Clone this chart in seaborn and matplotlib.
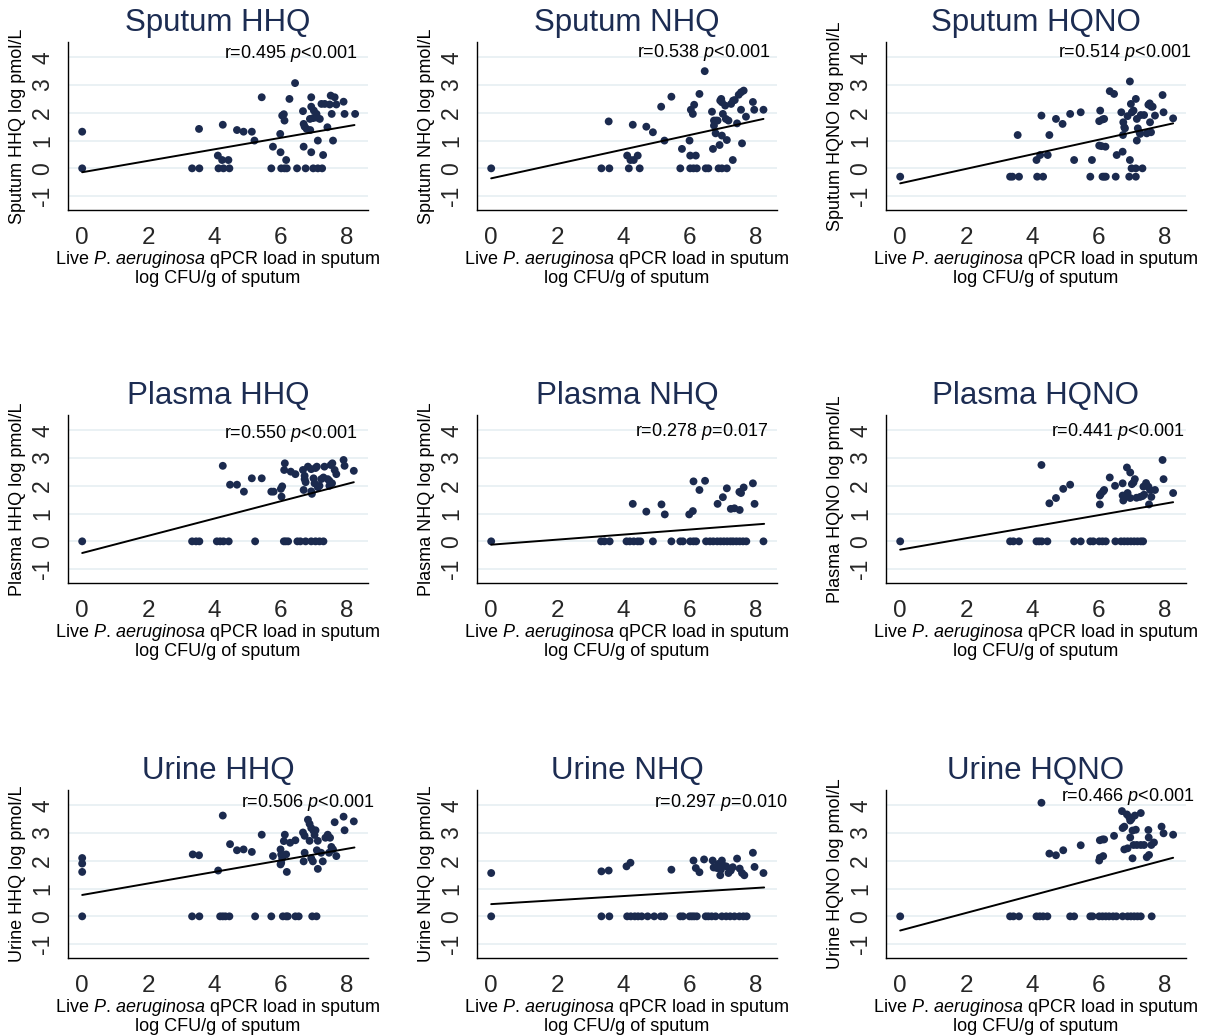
import matplotlib
matplotlib.use("Agg")
import matplotlib.pyplot as plt
import seaborn as sns
import pandas as pd

# ---------------- data ----------------
titles = ["Sputum HHQ", "Sputum NHQ", "Sputum HQNO",
          "Plasma HHQ", "Plasma NHQ", "Plasma HQNO",
          "Urine HHQ", "Urine NHQ", "Urine HQNO"]
ylabels = [t + " log pmol/L" for t in titles]
r_values = ["0.495", "0.538", "0.514", "0.550", "0.278", "0.441", "0.506", "0.297", "0.466"]
p_values = ["<0.001", "<0.001", "<0.001", "<0.001", "=0.017", "<0.001", "<0.001", "=0.010", "<0.001"]

sputum_hhq = [(0, 1.32), (0, 0), (3.33, 0), (3.55, 0), (3.54, 1.42), (4.11, 0.46), (4.24, 0.3), (4.43, 0.3),
              (4.26, 1.57), (4.13, 0), (4.28, 0), (4.46, 0), (4.69, 1.38), (4.89, 1.32), (5.14, 1.32), (5.22, 1.0),
              (5.44, 2.56), (5.73, 0), (5.78, 0.78), (6.0, 1.24), (6.01, 0.58), (6.06, 1.9), (6.11, 1.95),
              (6.13, 1.72), (6.03, 0), (6.13, 0), (6.2, 0), (6.18, 0.3), (6.28, 2.5), (6.45, 3.07), (6.51, 0),
              (6.69, 2.06), (6.71, 0.78), (6.71, 1.6), (6.74, 1.5), (6.77, 0), (6.8, 1.42), (6.91, 1.38),
              (6.9, 1.78), (7.0, 1.81), (7.1, 1.83), (6.94, 2.56), (6.94, 2.22), (7.02, 2.08), (7.1, 1.96),
              (6.94, 0.58), (7.0, 0), (7.14, 0), (7.27, 0), (7.14, 1.0), (7.2, 1.78), (7.3, 0.48), (7.25, 2.32),
              (7.35, 2.32), (7.43, 1.48), (7.5, 2.3), (7.53, 2.62), (7.56, 1.96), (7.6, 1.0), (7.65, 2.56),
              (7.7, 2.3), (7.92, 2.4), (7.95, 1.96), (8.27, 1.96)]

sputum_nhq = [(0, 0), (3.34, 0), (3.58, 0), (3.56, 1.69), (4.12, 0.46), (4.22, 0.3), (4.32, 0.3), (4.44, 0.46),
              (4.29, 1.57), (4.17, 0), (4.5, 0), (4.7, 1.5), (4.9, 1.3), (5.15, 2.22), (5.25, 1.0), (5.46, 2.58),
              (5.73, 0), (5.78, 0.7), (6.01, 1.0), (6.03, 0.46), (6.05, 2.11), (6.11, 1.96), (6.15, 2.29),
              (6.2, 0.46), (6.03, 0), (6.13, 0), (6.23, 0), (6.31, 2.68), (6.47, 3.5), (6.5, 0), (6.58, 0),
              (6.69, 2.04), (6.72, 0.7), (6.75, 1.72), (6.81, 1.72), (6.86, 1.72), (6.75, 1.54), (6.8, 1.26),
              (6.89, 0), (6.99, 0), (7.14, 0), (6.94, 2.44), (6.97, 2.5), (6.99, 2.38), (6.92, 0.84), (6.99, 1.18),
              (7.02, 1.96), (7.09, 2.26), (7.11, 1.78), (7.14, 1.02), (7.19, 1.72), (7.27, 2.32), (7.32, 0.3),
              (7.33, 2.44), (7.38, 2.46), (7.45, 1.62), (7.5, 2.65), (7.57, 2.74), (7.65, 2.8), (7.57, 2.11),
              (7.6, 0.9), (7.72, 1.86), (7.93, 2.39), (7.97, 2.11), (8.25, 2.11)]

sputum_hqno = [(0, -0.3), (3.33, -0.3), (3.4, -0.3), (3.6, -0.3), (3.56, 1.2), (4.13, 0.3), (4.24, 0.48),
               (4.28, 1.9), (4.15, -0.3), (4.33, -0.3), (4.47, 0.48), (4.52, 1.2), (4.72, 1.78), (4.92, 1.6),
               (5.15, 1.96), (5.27, 0.3), (5.47, 2.02), (5.76, -0.3), (5.81, 0.3), (6.06, 2.08), (6.03, 1.7),
               (6.13, 1.76), (6.18, 1.78), (6.03, 0.82), (6.1, 0.8), (6.22, 0.78), (6.13, -0.3), (6.18, -0.3),
               (6.23, -0.3), (6.35, 2.78), (6.48, 2.68), (6.53, -0.3), (6.56, 0.48), (6.7, 2.02), (6.74, 0.6),
               (6.76, 1.66), (6.79, 1.48), (6.81, 1.44), (6.75, 1.2), (6.89, 1.88), (6.96, 3.13), (6.99, 2.32),
               (6.96, 0.3), (6.94, -0.3), (7.02, 2.02), (7.07, 2.08), (7.01, 0), (7.14, 0), (7.34, 0),
               (7.14, -0.3), (7.14, 2.5), (7.17, 1.78), (7.17, 1.0), (7.2, 1.44), (7.25, 1.3), (7.27, 1.24),
               (7.29, 1.92), (7.39, 1.92), (7.47, 1.26), (7.6, 1.3), (7.52, 2.29), (7.56, 2.34), (7.61, 2.22),
               (7.57, 1.66), (7.65, 2.22), (7.72, 1.9), (7.95, 2.64), (7.98, 2.02), (8.27, 1.8)]

plasma_hhq = [(0, 0), (3.33, 0), (3.45, 0), (3.55, 0), (4.08, 0), (4.18, 0), (4.28, 0), (4.44, 0), (4.26, 2.72),
              (4.48, 2.04), (4.69, 2.04), (4.9, 1.79), (5.14, 2.27), (5.24, 0), (5.44, 2.27), (5.73, 1.79),
              (5.8, 1.79), (6.02, 1.89), (6.04, 1.61), (6.06, 1.98), (6.11, 0), (6.17, 0), (6.24, 0), (6.14, 2.81),
              (6.12, 2.57), (6.32, 2.51), (6.46, 2.42), (6.52, 0), (6.61, 0), (6.69, 2.57), (6.71, 1.85),
              (6.74, 2.36), (6.74, 2.24), (6.77, 2.13), (6.77, 0), (6.94, 0), (7.07, 0), (7.19, 0), (7.31, 0),
              (6.84, 2.69), (6.94, 2.6), (7.07, 2.64), (7.11, 2.69), (6.94, 1.8), (6.96, 1.71), (7.01, 2.27),
              (7.04, 2.09), (7.14, 1.95), (7.19, 2.0), (7.24, 2.24), (7.31, 2.3), (7.34, 2.69), (7.44, 2.24),
              (7.49, 2.18), (7.49, 2.0), (7.57, 2.09), (7.53, 2.75), (7.58, 2.81), (7.65, 2.57), (7.7, 2.42),
              (7.92, 2.93), (7.95, 2.72), (8.23, 2.54)]

plasma_nhq = [(0, 0), (3.33, 0), (3.43, 0), (3.59, 0), (4.1, 0), (4.2, 0), (4.32, 0), (4.44, 0), (4.52, 0),
              (4.29, 1.35), (4.7, 1.07), (4.9, 0), (5.16, 1.33), (5.26, 0.97), (5.46, 0), (5.73, 0), (5.81, 0),
              (6.0, 0.97), (6.11, 1.09), (6.13, 2.16), (6.31, 1.85), (6.48, 2.18), (6.03, 0), (6.13, 0), (6.21, 0),
              (6.51, 0), (6.63, 0), (6.73, 0), (6.85, 0), (6.95, 0), (7.05, 0), (7.15, 0), (7.25, 0), (7.33, 0),
              (7.43, 0), (7.53, 0), (7.63, 0), (7.73, 0), (6.86, 1.35), (7.02, 1.59), (7.14, 1.91), (7.26, 1.17),
              (7.37, 1.19), (7.53, 1.13), (7.52, 1.78), (7.57, 1.74), (7.65, 1.94), (7.93, 2.09), (7.98, 1.35),
              (8.25, 0)]

plasma_hqno = [(0, 0), (3.33, 0), (3.43, 0), (3.6, 0), (4.13, 0), (4.21, 0), (4.29, 0), (4.46, 0), (4.28, 2.75),
               (4.52, 1.37), (4.72, 1.56), (4.94, 1.89), (5.15, 2.04), (5.27, 0), (5.47, 0), (5.76, 0), (5.85, 0),
               (6.05, 1.33), (6.05, 1.65), (6.08, 1.71), (6.15, 1.8), (6.18, 1.85), (6.03, 0), (6.13, 0), (6.23, 0),
               (6.35, 2.3), (6.51, 2.0), (6.52, 0), (6.69, 0), (6.79, 0), (6.89, 0), (6.99, 0), (7.09, 0), (7.19, 0),
               (7.29, 0), (7.36, 0), (6.74, 2.09), (6.74, 1.65), (6.76, 1.47), (6.79, 1.56), (6.87, 2.66),
               (6.89, 1.74), (6.97, 2.48), (6.97, 1.56), (7.02, 2.06), (7.07, 2.12), (7.11, 2.24), (7.16, 1.57),
               (7.27, 1.6), (7.34, 1.63), (7.39, 1.68), (7.37, 1.97), (7.45, 2.1), (7.52, 1.97), (7.57, 1.85),
               (7.54, 1.33), (7.61, 1.6), (7.72, 1.85), (7.95, 2.93), (7.98, 2.24), (8.27, 1.74)]

urine_hhq = [(0, 0), (0, 1.6), (0, 1.9), (0, 2.1), (3.33, 0), (3.55, 0), (3.35, 2.23), (3.54, 2.2), (4.12, 1.65),
             (4.18, 0), (4.26, 0), (4.34, 0), (4.46, 0), (4.26, 3.63), (4.48, 2.6), (4.69, 2.38), (4.89, 2.41),
             (5.14, 2.32), (5.24, 0), (5.44, 2.94), (5.73, 0), (5.78, 2.17), (6.01, 2.41), (6.03, 2.23),
             (6.06, 2.09), (6.03, 1.93), (6.01, 1.87), (6.11, 2.71), (6.14, 2.94), (6.18, 2.23), (6.2, 1.6),
             (6.08, 0), (6.18, 0), (6.23, 0), (6.3, 2.65), (6.46, 2.74), (6.46, 0), (6.56, 0), (6.69, 3.02),
             (6.74, 2.9), (6.71, 1.98), (6.74, 2.29), (6.84, 3.48), (6.89, 3.33), (6.89, 2.72), (6.94, 3.18),
             (7.01, 3.08), (7.04, 2.93), (6.94, 2.09), (6.99, 1.98), (6.97, 0), (7.1, 0), (7.07, 3.1), (7.11, 2.38),
             (7.14, 1.71), (7.14, 2.72), (7.24, 2.29), (7.29, 1.98), (7.37, 2.83), (7.44, 2.94), (7.51, 2.83),
             (7.48, 2.29), (7.55, 2.5), (7.6, 2.41), (7.65, 3.39), (7.7, 2.17), (7.92, 3.59), (7.95, 3.1),
             (8.23, 3.42)]

urine_nhq = [(0, 0), (0, 1.56), (3.34, 0), (3.58, 0), (3.34, 1.62), (3.56, 1.65), (4.1, 1.8), (4.22, 1.93),
             (4.12, 0), (4.23, 0), (4.35, 0), (4.45, 0), (4.56, 0), (4.74, 0), (4.94, 0), (5.14, 0), (5.24, 0),
             (5.46, 1.68), (5.73, 0), (5.81, 0), (6.01, 0), (6.08, 0), (6.15, 0), (6.23, 0), (6.13, 2.01),
             (6.2, 1.74), (6.31, 1.59), (6.45, 2.05), (6.5, 0), (6.58, 0), (6.68, 0), (6.8, 0), (6.99, 0), (7.12, 0),
             (7.24, 0), (7.37, 0), (7.52, 0), (7.64, 0), (7.74, 0), (6.71, 2.01), (6.74, 1.76), (6.84, 1.74),
             (6.89, 1.89), (6.99, 2.01), (7.02, 1.84), (6.96, 1.68), (6.94, 1.48), (7.12, 1.8), (7.19, 1.56),
             (7.26, 1.65), (7.32, 1.77), (7.45, 2.08), (7.53, 1.72), (7.6, 1.56), (7.67, 1.48), (7.93, 2.29),
             (7.98, 1.78), (8.25, 1.56)]

urine_hqno = [(0, 0), (3.33, 0), (3.43, 0), (3.6, 0), (4.13, 0), (4.23, 0), (4.33, 0), (4.46, 0), (4.28, 4.09),
              (4.52, 2.26), (4.72, 2.2), (4.94, 2.38), (5.15, 0), (5.27, 0), (5.47, 2.56), (5.76, 0), (5.83, 0),
              (6.03, 2.01), (6.05, 2.11), (6.05, 2.74), (6.13, 2.77), (6.18, 2.77), (6.15, 2.17), (6.03, 0),
              (6.13, 0), (6.23, 0), (6.33, 0), (6.45, 0), (6.55, 0), (6.74, 0), (6.89, 0), (6.99, 0), (7.09, 0),
              (7.19, 0), (7.29, 0), (7.62, 0), (6.48, 2.9), (6.72, 3.79), (6.74, 3.18), (6.79, 3.23), (6.79, 2.41),
              (6.89, 2.45), (6.87, 3.67), (6.94, 3.57), (6.97, 3.45), (7.01, 3.51), (6.97, 2.84), (7.04, 2.09),
              (7.04, 3.09), (7.07, 2.57), (7.14, 3.12), (7.11, 3.63), (7.29, 3.72), (7.17, 2.57), (7.29, 2.57),
              (7.39, 2.57), (7.47, 2.13), (7.54, 2.21), (7.52, 3.11), (7.53, 2.84), (7.61, 2.57), (7.69, 2.66),
              (7.92, 3.23), (7.98, 2.99), (8.27, 2.94)]

panels = [sputum_hhq, sputum_nhq, sputum_hqno, plasma_hhq, plasma_nhq, plasma_hqno,
          urine_hhq, urine_nhq, urine_hqno]

# fitted regression lines: value at x=0 and value at the largest x
fit_start = [-0.14, -0.36, -0.54, -0.42, -0.12, -0.30, 0.77, 0.44, -0.51]
fit_end = [1.56, 1.78, 1.62, 2.13, 0.63, 1.41, 2.48, 1.04, 2.11]
fit_xmax = [8.25, 8.25, 8.27, 8.23, 8.27, 8.27, 8.25, 8.27, 8.27]

xticks = [0, 2, 4, 6, 8]
yticks = [-1, 0, 1, 2, 3, 4]
xlabel = "Live $P.\\,aeruginosa$ qPCR load in sputum\nlog CFU/g of sputum"

# ---------------- layout / style ----------------
stat_x = [8.33, 8.45, 8.82, 8.33, 8.39, 8.60, 8.85, 8.97, 8.90]
stat_y = [4.14, 4.18, 4.18, 3.90, 3.97, 3.97, 4.10, 4.10, 4.30]

sns.set_theme(style="white")
plt.rcParams["font.family"] = ["Liberation Sans", "DejaVu Sans"]
plt.rcParams["mathtext.fontset"] = "custom"
plt.rcParams["mathtext.rm"] = "Liberation Sans"
plt.rcParams["mathtext.it"] = "Liberation Sans:italic"
plt.rcParams["axes.unicode_minus"] = False

W, H = 1210, 1035
fig = plt.figure(figsize=(W / 100, H / 100), dpi=100)
fig.patch.set_facecolor("white")

col_left = [68, 477, 886]
row_top = [42, 415, 790]
ax_w, ax_h = 300, 168

dot_color = "#1b2a4e"
title_color = "#1c2c52"
grid_color = "#e4eef1"

for i, pts in enumerate(panels):
    r, c = divmod(i, 3)
    ax = fig.add_axes([col_left[c] / W, 1 - (row_top[r] + ax_h) / H, ax_w / W, ax_h / H])
    df = pd.DataFrame(pts, columns=["x", "y"])
    for yv in yticks:
        ax.axhline(yv, color=grid_color, lw=1.1, zorder=0)
    sns.scatterplot(data=df, x="x", y="y", ax=ax, color=dot_color, s=32,
                    edgecolor="none", linewidth=0, zorder=3, legend=False)
    fit_df = pd.DataFrame({"x": [0, fit_xmax[i]], "y": [fit_start[i], fit_end[i]]})
    sns.lineplot(data=fit_df, x="x", y="y", ax=ax, color="black", lw=1.4, zorder=4)

    ax.set_xlim(-0.43, 8.66)
    ax.set_ylim(-1.5, 4.55)
    ax.set_xticks(xticks)
    ax.set_yticks(yticks)
    ax.tick_params(axis="x", which="major", length=7, width=1, color="black",
                   labelsize=17.5, direction="out", pad=5)
    ax.tick_params(axis="y", which="major", length=7, width=1, color="black",
                   labelsize=16.5, direction="out", pad=3, labelrotation=90)
    for lab in ax.get_yticklabels():
        lab.set_va("center")
    for s in ["top", "right"]:
        ax.spines[s].set_visible(False)
    for s in ["left", "bottom"]:
        ax.spines[s].set_color("black")
        ax.spines[s].set_linewidth(1.0)
    ax.grid(False)

    ax.set_title(titles[i], fontsize=22.5, color=title_color, pad=8)
    ax.set_ylabel(ylabels[i], fontsize=13, color="black")
    ax.yaxis.set_label_coords(-0.14, 0.5)
    ax.set_xlabel(xlabel, fontsize=13, color="black", linespacing=1.0)
    ax.xaxis.set_label_coords(0.5, -0.235)

    ax.text(stat_x[i], stat_y[i], "r=" + r_values[i] + " $p$" + p_values[i],
            ha="right", va="center", fontsize=13, color="black", zorder=5)

fig.savefig("out.png", dpi=100, facecolor="white")
